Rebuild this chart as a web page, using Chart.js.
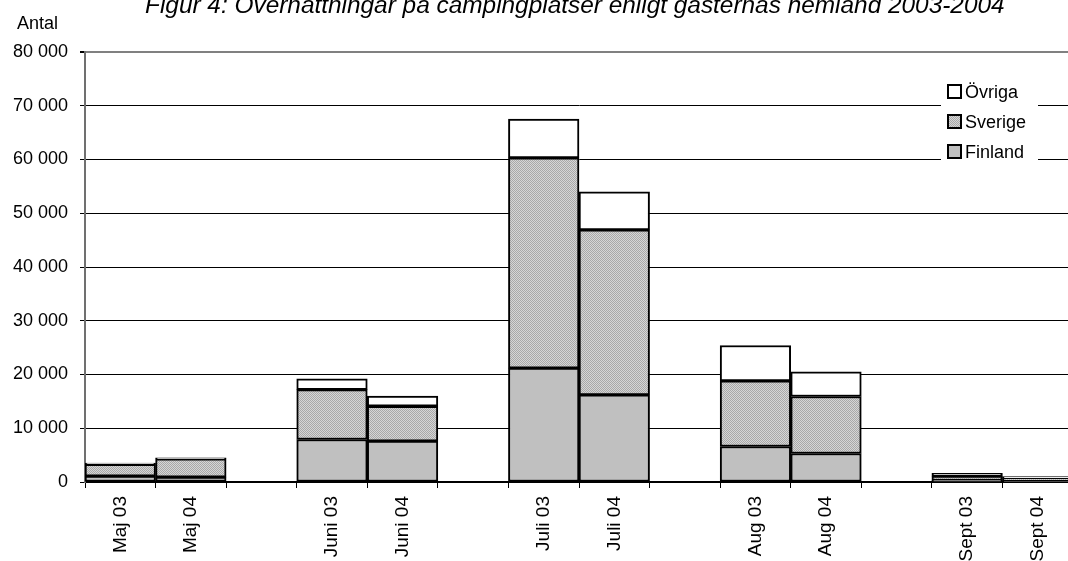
<!DOCTYPE html>
<html>
<head>
<meta charset="utf-8">
<script src="https://cdn.jsdelivr.net/npm/chart.js@4.4.1/dist/chart.umd.min.js"></script>
<style>
  html, body { margin: 0; padding: 0; background: #fff; overflow: hidden; }
  #wrap { width: 1073px; height: 561px; }
</style>
</head>
<body>
<div id="wrap"><canvas id="camping" width="1073" height="561"></canvas></div>
<script>
const months = ['Maj 03', 'Maj 04', '', 'Juni 03', 'Juni 04', '', 'Juli 03', 'Juli 04', '', 'Aug 03', 'Aug 04', '', 'Sept 03', 'Sept 04'];
const finland = [1100, 900, null, 7900, 7600, null, 21200, 16200, null, 6600, 5300, null, 300, 200];
const sverige = [2200, 3400, null, 9300, 6500, null, 39100, 30700, null, 12200, 10600, null, 800, 500];
const ovriga  = [200, 200, null, 2000, 1900, null, 7200, 7100, null, 6600, 4600, null, 500, 300];
const titleText = 'Figur 4: Övernattningar på campingplatser enligt gästernas hemland 2003-2004';
const FONT = "'Liberation Sans', Arial, sans-serif";

function dotPattern() {
    const c = document.createElement('canvas');
    c.width = 2; c.height = 2;
    const g = c.getContext('2d');
    g.fillStyle = '#d6d6d6';
    g.fillRect(0, 0, 2, 2);
    g.fillStyle = '#a8a8a8';
    g.fillRect(0, 0, 1, 1);
    g.fillRect(1, 1, 1, 1);
    return g.createPattern(c, 'repeat');
}

const ctx = document.getElementById('camping').getContext('2d');
const sverigeFill = dotPattern();

// title, "Antal" and the boxed legend are drawn by hand
const extras = {
    id: 'extras',
    afterDraw(chart) {
        const c = chart.ctx;
        c.save();
        c.fillStyle = '#000';
        c.textBaseline = 'alphabetic';
        c.font = 'italic 24.4px ' + FONT;
        c.textAlign = 'left';
        c.fillText(titleText, 145, 13);
        c.font = '18px ' + FONT;
        c.fillText('Antal', 17, 29);

        c.fillStyle = '#fff';
        c.fillRect(941, 78, 97, 88);
        const items = chart.data.datasets.slice().reverse();
        const ys = [92, 122, 152];
        items.forEach((ds, i) => {
            const y = ys[i];
            c.fillStyle = ds.backgroundColor;
            c.fillRect(948, y - 7, 13, 13);
            c.strokeStyle = '#000';
            c.lineWidth = 2;
            c.strokeRect(948, y - 7, 13, 13);
            c.fillStyle = '#000';
            c.font = '18px ' + FONT;
            c.textBaseline = 'middle';
            c.fillText(ds.label, 965, y + 1);
        });
        c.restore();
    }
};

new Chart(ctx, {
    type: 'bar',
    data: {
        labels: months,
        datasets: [
            { label: 'Finland', data: finland, backgroundColor: '#c0c0c0', borderColor: '#000', borderWidth: 2, borderSkipped: false },
            { label: 'Sverige', data: sverige, backgroundColor: sverigeFill, borderColor: '#000', borderWidth: 2, borderSkipped: false },
            { label: 'Övriga', data: ovriga, backgroundColor: '#ffffff', borderColor: '#000', borderWidth: 2, borderSkipped: false }
        ]
    },
    options: {
        responsive: false,
        animation: false,
        barPercentage: 1,
        categoryPercentage: 1,
        layout: { padding: { top: 52, right: 0, left: 0, bottom: 0 } },
        plugins: {
            legend: { display: false },
            title: { display: false },
            tooltip: { enabled: false }
        },
        scales: {
            x: {
                stacked: true,
                afterFit: s => { s.height = 79; },
                grid: { offset: true, drawOnChartArea: false, drawTicks: true, tickLength: 6, color: '#000', lineWidth: 1 },
                border: { display: true, color: '#000', width: 2 },
                ticks: { autoSkip: false, minRotation: 90, maxRotation: 90, padding: 8, color: '#000', font: { family: FONT, size: 19 } }
            },
            y: {
                stacked: true,
                min: 0,
                max: 80000,
                afterFit: s => { s.width = 85; },
                grid: {
                    color: c => c.tick && c.tick.value === 80000 ? '#808080' : '#000',
                    lineWidth: c => c.tick && c.tick.value === 80000 ? 2 : 1,
                    tickLength: 5,
                    tickColor: '#000'
                },
                border: { display: true, color: '#707070', width: 2 },
                ticks: {
                    stepSize: 10000,
                    padding: 12,
                    color: '#000',
                    font: { family: FONT, size: 18 },
                    callback: v => v === 0 ? '0' : String(v).replace(/\B(?=(\d{3})+(?!\d))/g, ' ')
                }
            }
        }
    },
    plugins: [extras]
});
</script>
</body>
</html>
